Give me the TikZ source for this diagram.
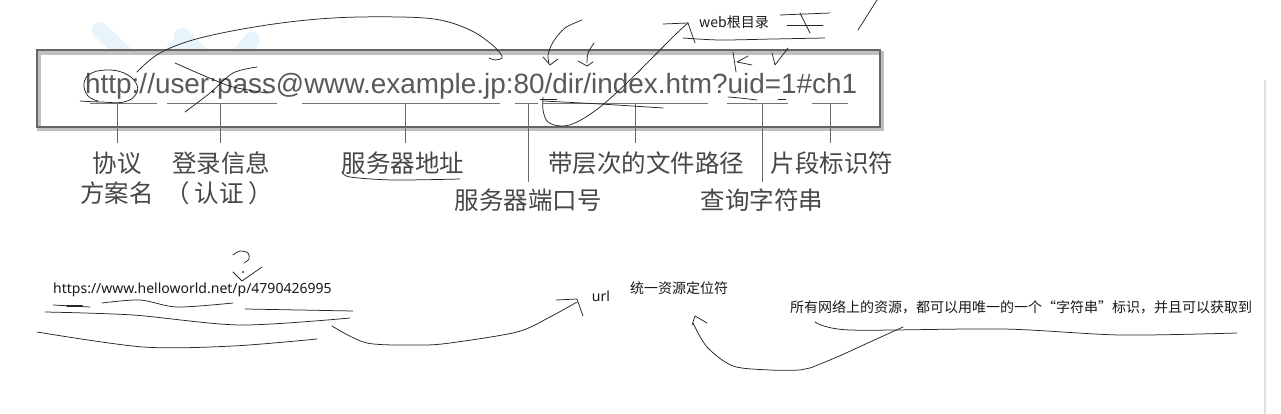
\documentclass[tikz,border=0pt]{standalone}
\usepackage{fontspec}
\setmainfont{Liberation Sans}
\newfontfamily\cjk{Noto Sans CJK SC}
\newfontfamily\notos{Noto Sans}
\begin{document}
\begin{tikzpicture}[x=1pt,y=-1pt,
  hand/.style={black!85, line width=0.75pt, line cap=round, line join=round},
  tick/.style={black!60, line width=0.9pt},
  uline/.style={black!55, line width=1pt},
  lbl/.style={font=\cjk\fontsize{24.5}{26}\selectfont, text=black!72, inner sep=0pt},
  note/.style={font=\cjk\fontsize{14}{16}\selectfont, text=black!90, inner sep=0pt},
  latin/.style={font=\notos\fontsize{14}{16}\selectfont, text=black!90, inner sep=0pt}]
\useasboundingbox (0,0) rectangle (1281,414);
\fill[white] (0,0) rectangle (1281,414);
% watermark
\draw[line width=16pt, color={rgb,255:red,232;green,244;blue,251}, line cap=round] (100,30) -- (150,78) -- (182,42);
\draw[line width=16pt, color={rgb,255:red,232;green,244;blue,251}, line cap=round] (182,36) -- (222,76) -- (252,40);
% box
\fill[white] (37,50) rectangle (880,127);
\draw[black!25, line width=4pt] (39,53) rectangle (882,129);
\draw[black!60, line width=1.6pt] (37,50) rectangle (880,127);
% url text
\node[anchor=base west, inner sep=0pt, text=black!65, font=\fontsize{27.9}{30}\selectfont] (mainurl) at (85,94) {http://user:pass@www.example.jp:80/dir/index.htm?uid=1\#ch1};
% underlines
\draw[uline] (90,104) -- (157,104);
\draw[uline] (167,104) -- (277,104);
\draw[uline] (302,104) -- (500,104);
\draw[uline] (515,104) -- (538,104);
\draw[uline] (543,104) -- (708,104);
\draw[uline] (727,104) -- (788,104);
\draw[uline] (812,104) -- (848,104);
% ticks
\draw[tick] (117,104) -- (117,143);
\draw[tick] (220,104) -- (220,143);
\draw[tick] (405,104) -- (405,143);
\draw[tick] (528,104) -- (528,182);
\draw[tick] (635,104) -- (635,143);
\draw[tick] (762,104) -- (762,182);
\draw[tick] (830,104) -- (830,143);
% labels
\node[lbl] (l1) at (117,163) {协议};
\node[lbl] (l1b) at (117,193) {方案名};
\node[lbl] (l2) at (221,163) {登录信息};
\node[lbl] (l2b) at (219,193) {（\hspace{5pt}认证\hspace{5pt}）};
\node[lbl] (l3) at (403,163) {服务器地址};
\node[lbl] (l4) at (528,200) {服务器端口号};
\node[lbl] (l5) at (646,163) {带层次的文件路径};
\node[lbl] (l6) at (762,200) {查询字符串};
\node[lbl] (l7) at (832,163) {片段标识符};
% notes
\node[note] (web) at (734,22) {web根目录};
\node[latin, anchor=west] (u2) at (53,290) {https://www.helloworld.net/p/4790426995};
\node[latin] (urlw) at (601,296) {url};
\node[note] (tongyi) at (679,288) {统一资源定位符};
\node[note, anchor=west] (suoyou) at (790,307) {所有网络上的资源，都可以用唯一的一个“字符串”标识，并且可以获取到};
% right gray bar
\draw[black!12, line width=2pt] (1265,80) -- (1265,414);
% ---- hand strokes top
\draw[hand] plot[smooth, tension=0.7] coordinates {(80,101) (100,102) (124,102) (136,94) (136,83) (124,73) (106,70) (90,74) (84,84) (88,96) (98,101)};
\draw[hand] plot[smooth, tension=0.6] coordinates {(137,72) (160,53) (200,38) (267,25) (333,18) (400,17) (440,20) (470,30) (490,43) (500,53) (502,58) (495,60) (489,58)};
\draw[hand] plot[smooth] coordinates {(175,63) (207,77) (233,87) (267,93)};
\draw[hand] plot[smooth] coordinates {(257,67) (233,73) (210,93) (185,112)};
\draw[hand] plot[smooth] coordinates {(582,20) (565,28) (553,42) (548,55) (549,63)};
\draw[hand] (543,57) -- (550,65) -- (558,59);
\draw[hand] plot[smooth] coordinates {(594,43) (588,53) (587,63)};
\draw[hand] (578,61) -- (587,66) -- (593,62);
\draw[hand] plot[smooth, tension=0.6] coordinates {(543,97) (543,110) (548,122) (562,126) (577,122) (600,107) (630,80) (657,53) (677,33) (688,23)};
\draw[hand] (663,24) -- (688,23) -- (695,43);
\draw[hand] plot[smooth] coordinates {(543,101) (600,104) (663,108)};
\draw[hand] (540,99) -- (557,99);
\draw[hand] plot[smooth] coordinates {(683,38) (720,40) (773,39) (825,38)};
\draw[hand] (780,15) -- (830,13);
\draw[hand] (787,25) -- (823,25);
\draw[hand] (800,13) -- (810,33);
\draw[hand] (858,30) -- (877,0);
\draw[hand] (733,52) -- (736,72);
\draw[hand] (748,56) -- (737,62) -- (752,65);
\draw[hand] (772,53) -- (775,65) -- (788,48);
\draw[hand] plot[smooth] coordinates {(728,97) (740,98) (757,100)};
\draw[hand] (778,99) -- (786,99);
\draw[hand] plot[smooth] coordinates {(342,172) (350,177) (393,180) (460,179)};
% ---- hand strokes bottom
\draw[hand] (53,305) -- (90,307);
\draw[hand, line width=2pt] (67,306) -- (82,306);
\draw[hand] plot[smooth] coordinates {(102,303) (140,300) (177,307) (233,303)};
\draw[hand] (245,309) -- (353,311);
\draw[hand] plot[smooth] coordinates {(45,312) (133,315) (240,325) (350,318)};
\draw[hand] plot[smooth] coordinates {(37,332) (143,347) (233,346) (317,339)};
\draw[hand] plot[smooth] coordinates {(332,326) (367,343) (420,345) (450,343) (517,332) (550,317) (577,302)};
\draw[hand] (556,300) -- (577,299) -- (583,316);
\draw[hand] plot[smooth] coordinates {(233,255) (240,251) (248,253) (249,259) (244,263)};
\fill[black!85] (243,272) circle (1pt);
\draw[hand] (233,272) -- (242,281) -- (262,267);
\draw[hand] plot[smooth] coordinates {(815,322) (850,330) (1003,329) (1120,335) (1237,333)};
\draw[hand] plot[smooth] coordinates {(903,327) (870,342) (837,357) (810,368) (800,370) (770,370) (733,366) (707,347) (693,323)};
\draw[hand] (692,325) -- (695,316) -- (707,323);
\end{tikzpicture}
\end{document}
